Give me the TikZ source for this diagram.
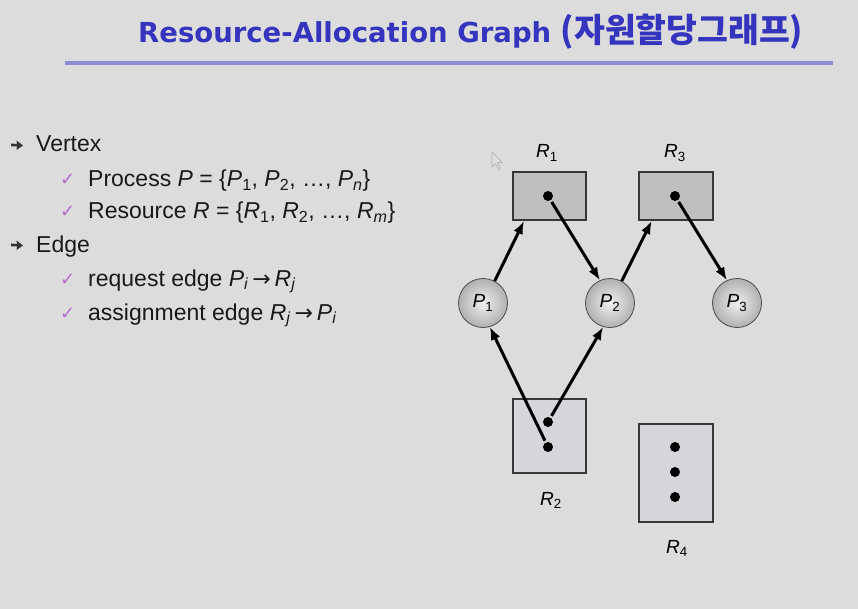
\documentclass[tikz,border=0pt]{standalone}
\usepackage{fontspec}
\setmainfont{Liberation Sans}
\newfontfamily\krfont{Noto Sans CJK KR}
\newfontfamily\djfont{DejaVu Sans}
\usetikzlibrary{arrows.meta,calc}
\definecolor{bg}{RGB}{220,220,220}
\definecolor{titleblue}{RGB}{52,52,190}
\definecolor{rulecol}{RGB}{140,140,210}
\definecolor{checkcol}{RGB}{180,110,210}
\definecolor{edgecol}{RGB}{55,55,55}
\definecolor{darkfill}{RGB}{190,190,190}
\definecolor{lightfill}{RGB}{214,214,218}
\newcommand\mysub[1]{\textsubscript{#1}}
\begin{document}
\begin{tikzpicture}[x=1pt,y=-1pt,
  txt/.style={anchor=base west, inner sep=0pt, font=\fontsize{23}{27}\selectfont, text=black!90},
  chk/.style={anchor=base west, inner sep=0pt, font=\djfont\fontsize{18}{20}\selectfont, text=checkcol},
  res/.style={rectangle, draw=edgecol, line width=2pt, inner sep=0pt},
  proc/.style={circle, minimum size=49pt, inner sep=0pt, draw=gray!60!black, line width=0.8pt,
    shade, inner color=gray!12, outer color=gray!62, font=\fontsize{19}{21}\selectfont},
  lbl/.style={anchor=base, inner sep=0pt, font=\fontsize{19}{21}\selectfont},
  rdot/.style={circle, fill=black, inner sep=0pt, minimum size=10pt, outer sep=2pt},
  arr/.style={-{Latex[length=13pt,width=10pt]}, line width=3pt, black}]
\fill[bg] (0,0) rectangle (858,609);
\useasboundingbox (0,0) rectangle (858,609);

% title
\node[anchor=base west, inner sep=0pt, text=titleblue, font=\djfont\fontsize{27.5}{30}\selectfont\bfseries] (title) at (138,43)
  {Resource-Allocation Graph {\krfont\bfseries\fontsize{33.5}{35}\selectfont (자원할당그래프)}};
\draw[rulecol, line width=3.5pt] (65,63) -- (833,63);

% bullets
\fill[black!80] (11,143.5) -- (17,144) -- (16.5,140.5) -- (23,145.5) -- (16.5,150) -- (17,146.5) -- (11,146.5) -- cycle;
\fill[black!80] (11,243.5) -- (17,244) -- (16.5,240.5) -- (23,245.5) -- (16.5,250) -- (17,246.5) -- (11,246.5) -- cycle;
\node[txt] (vertex) at (36,152) {Vertex};
\node[chk] (c1) at (60,186) {✓};
\node[txt] (process) at (88,187) {Process \textit{P} = \{\textit{P}\mysub{1}, \textit{P}\mysub{2}, …, \textit{P}\mysub{\textit{n}}\}};
\node[chk] (c2) at (60,218) {✓};
\node[txt] (resource) at (88,219) {Resource \textit{R} = \{\textit{R}\mysub{1}, \textit{R}\mysub{2}, …, \textit{R}\mysub{\textit{m}}\}};
\node[txt] (edge) at (36,253) {Edge};
\node[chk] (c3) at (60,285) {✓};
\node[txt] (request) at (88,286) {request edge \textit{P}\mysub{\textit{i}}\,{\djfont\fontsize{22}{24}\selectfont →}\,\textit{R}\mysub{\textit{j}}};
\node[chk] (c4) at (60,319) {✓};
\node[txt] (assign) at (88,320) {assignment edge \textit{R}\mysub{\textit{j}}\,{\djfont\fontsize{22}{24}\selectfont →}\,\textit{P}\mysub{\textit{i}}};

% cursor
\draw[gray!60, fill=gray!25, line width=0.6pt] (492,152) -- (492,167) -- (495.5,163.5) -- (498.5,170) -- (500.5,169) -- (497.5,162.5) -- (502,162.5) -- cycle;

% resources
\node[res, fill=darkfill, minimum width=73pt, minimum height=48pt] (R1) at (549.5,196) {};
\node[res, fill=darkfill, minimum width=74pt, minimum height=48pt] (R3) at (676,196) {};
\node[res, fill=lightfill, minimum width=73pt, minimum height=74pt] (R2) at (549.5,436) {};
\node[res, fill=lightfill, minimum width=74pt, minimum height=98pt] (R4) at (676,473) {};

\node[rdot] (d1) at (548,196) {};
\node[rdot] (d3) at (675,196) {};
\node[rdot] (d2a) at (548,422) {};
\node[rdot] (d2b) at (548,447) {};
\node[rdot] (d4a) at (675,447) {};
\node[rdot] (d4b) at (675,472) {};
\node[rdot] (d4c) at (675,497) {};

\node[lbl] (lR1) at (547,158) {\textit{R}\mysub{1}};
\node[lbl] (lR3) at (675,158) {\textit{R}\mysub{3}};
\node[lbl] (lR2) at (551,505) {\textit{R}\mysub{2}};
\node[lbl] (lR4) at (677,553) {\textit{R}\mysub{4}};

% processes
\node[proc] (P1) at (483,303) {\textit{P}\mysub{1}};
\node[proc] (P2) at (610,303) {\textit{P}\mysub{2}};
\node[proc] (P3) at (737,303) {\textit{P}\mysub{3}};

% edges
\draw[arr] (P1.62) -- ($(R1.south west)!0.16!(R1.south east)$);
\draw[arr] (d1) -- (P2.114);
\draw[arr] (P2.62) -- ($(R3.south west)!0.18!(R3.south east)$);
\draw[arr] (d3) -- (P3.114);
\draw[arr] (d2b) -- (P1.286);
\draw[arr] (d2a) -- (P2.254);
\end{tikzpicture}
\end{document}
